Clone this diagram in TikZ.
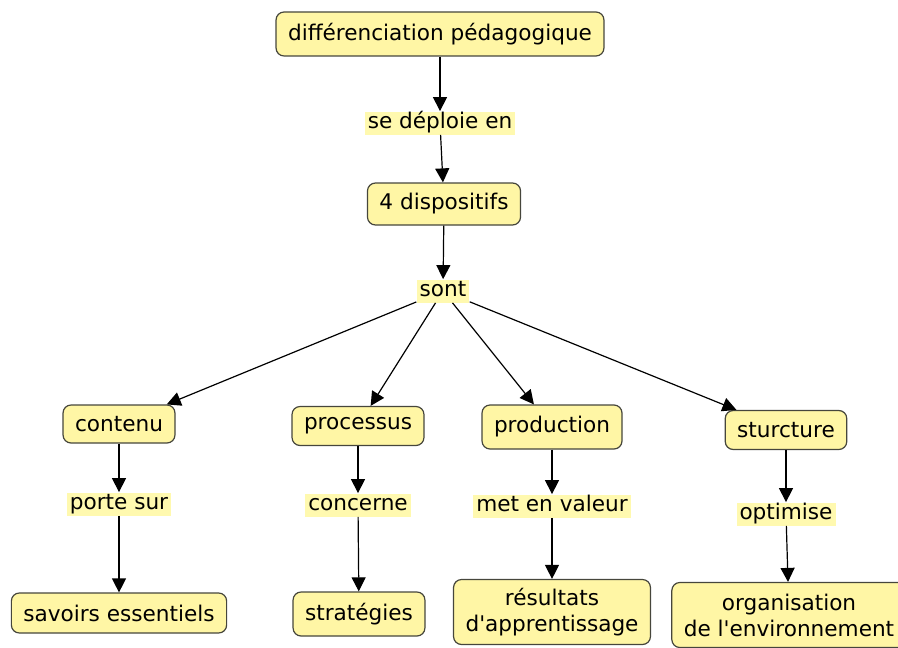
\documentclass[tikz,border=0pt]{standalone}
\usepackage{fontspec}
\setmainfont{DejaVu Sans}
\usepackage{tikz}
\usetikzlibrary{arrows.meta,shapes,positioning}
\usepackage{xcolor}
\definecolor{cmyellow}{RGB}{255,246,165}
\definecolor{cmlabel}{RGB}{255,249,175}
\definecolor{cmborder}{RGB}{70,70,60}
\tikzstyle{arrow} = [line width=0.6pt,-{Triangle[width=7pt,length=7pt]},color=black]
\tikzstyle{concept} = [rectangle, rounded corners=4pt, minimum height=20pt, inner xsep=6pt, text centered, align=center, draw=cmborder, fill=cmyellow, line width=0.6pt]
\tikzstyle{linkword} = [rectangle, fill=cmlabel, inner xsep=1.5pt, inner ysep=0.5pt, text height=8pt, text depth=2.5pt]

\begin{document}
\begin{tikzpicture}[x=0.5pt, y=-0.5pt, font=\fontsize{10.8}{13}\selectfont]
\useasboundingbox (0,0) rectangle (898,647);

% top of the map
\node (diff) [concept, minimum height=22pt] at (440,34) {différenciation pédagogique};
\node (deploie) [linkword] at (440,123) {se déploie en};
\node (dispo) [concept, minimum height=21pt] at (444,204) {4 dispositifs};
\node (sont) [linkword] at (443,291) {sont};

% the four dispositifs
\node (contenu) [concept, minimum height=19pt] at (119,424) {contenu};
\node (processus) [concept, minimum height=19.5pt] at (358,426) {processus};
\node (production) [concept, minimum height=22pt] at (552,427) {production};
\node (structure) [concept, minimum height=19.5pt] at (786,430) {sturcture};

% linking words
\node (portesur) [linkword] at (119,504) {porte sur};
\node (concerne) [linkword] at (358,505) {concerne};
\node (valeur) [linkword] at (552,506) {met en valeur};
\node (optimise) [linkword] at (786,514) {optimise};

% bottom row
\node (savoirs) [concept] at (119,613) {savoirs essentiels};
\node (strategies) [concept, minimum height=22pt] at (359,614) {stratégies};
\node (resultats) [concept, minimum height=32.5pt] at (552,612) {résultats\\d\textquotesingle apprentissage};
\node (organisation) [concept, minimum height=32.5pt] at (789,615) {organisation\\de l\textquotesingle environnement};

% connectors
\draw[arrow] (diff) -- (deploie);
\draw[arrow] (deploie) -- (dispo);
\draw[arrow] (dispo) -- (sont);
\draw[arrow] (sont) -- (contenu);
\draw[arrow] (sont) -- (processus);
\draw[arrow] (sont) -- (production);
\draw[arrow] (sont) -- (structure);
\draw[arrow] (contenu) -- (portesur);
\draw[arrow] (portesur) -- (savoirs);
\draw[arrow] (processus) -- (concerne);
\draw[arrow] (concerne) -- (strategies);
\draw[arrow] (production) -- (valeur);
\draw[arrow] (valeur) -- (resultats);
\draw[arrow] (structure) -- (optimise);
\draw[arrow] (optimise) -- (organisation);

\end{tikzpicture}
\end{document}
